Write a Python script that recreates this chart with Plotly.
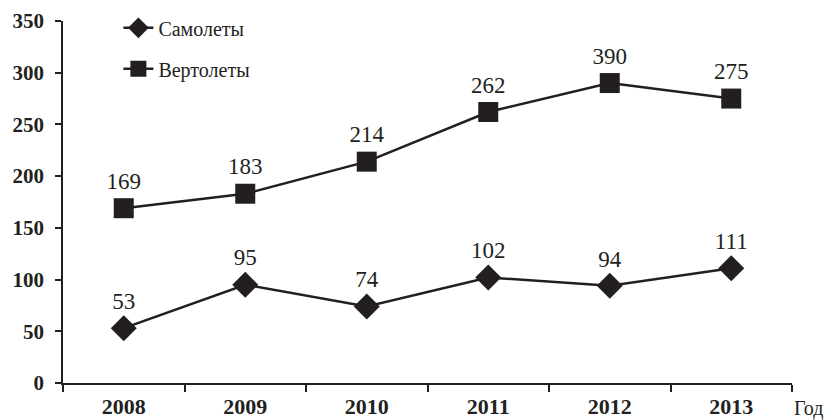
import plotly.graph_objects as go

years = ["2008", "2009", "2010", "2011", "2012", "2013"]
planes = [53, 95, 74, 102, 94, 111]
planes_labels = ["53", "95", "74", "102", "94", "111"]
helis = [169, 183, 214, 262, 290, 275]
helis_labels = ["169", "183", "214", "262", "390", "275"]
y_ticks = [0, 50, 100, 150, 200, 250, 300, 350]

FONT = "Liberation Serif"
INK = "#231f20"
fig = go.Figure()
fig.add_trace(go.Scatter(
    x=years, y=planes, name="Самолеты", mode="lines+markers+text",
    text=planes_labels, textposition="top center", legendgroup="a",
    textfont=dict(family=FONT, size=23, color=INK),
    line=dict(color=INK, width=2.5),
    marker=dict(symbol="diamond", size=20, color=INK),
))
fig.add_trace(go.Scatter(
    x=years, y=helis, name="Вертолеты", mode="lines+markers+text",
    text=helis_labels, textposition="top center", legendgroup="b",
    textfont=dict(family=FONT, size=23, color=INK),
    line=dict(color=INK, width=2.5),
    marker=dict(symbol="square", size=20, color=INK),
))
fig.update_layout(
    width=828, height=420,
    margin=dict(l=63, r=36, t=21, b=37, autoexpand=False),
    paper_bgcolor="white", plot_bgcolor="white",
    font=dict(family=FONT, color=INK),
    showlegend=True,
    legend=dict(x=0.076, y=1.035, xanchor="left", yanchor="top",
                font=dict(family=FONT, size=20, color=INK),
                bgcolor="rgba(0,0,0,0)", tracegroupgap=12,
                traceorder="grouped"),
    xaxis=dict(type="category", range=[-0.5, 5.5], showline=True,
               linecolor=INK, linewidth=1.5, ticks="outside",
               tickson="boundaries", ticklen=7, tickcolor=INK,
               tickwidth=1.5, showgrid=False, zeroline=False,
               ticklabelstandoff=3, automargin=False,
               tickfont=dict(family=FONT, size=22, color=INK, weight="bold")),
    yaxis=dict(range=[0, 350], tickvals=y_ticks, showline=True,
               linecolor=INK, linewidth=1.5, ticks="outside",
               ticklen=6, tickcolor=INK, tickwidth=1.5, automargin=False,
               showgrid=False, zeroline=False, ticklabelstandoff=7,
               tickfont=dict(family=FONT, size=21, color=INK, weight="bold")),
)
fig.add_annotation(text="Год", xref="paper", yref="paper", x=1.0, y=0,
                   xanchor="left", yanchor="top", yshift=-12, xshift=0,
                   showarrow=False,
                   font=dict(family=FONT, size=20, color=INK))
fig.write_html("out.html")
